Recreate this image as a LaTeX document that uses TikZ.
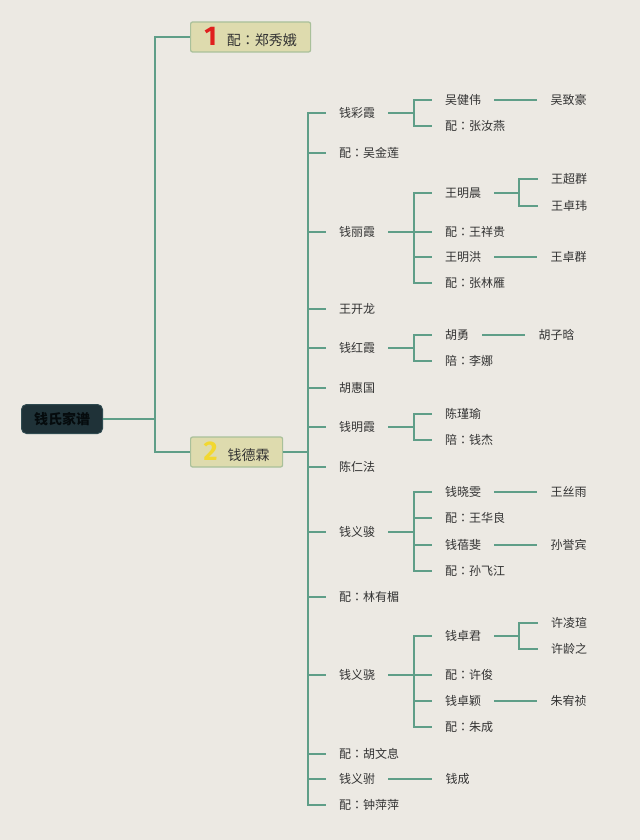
\documentclass[tikz,border=0pt]{standalone}
\usepackage{fontspec}
\setmainfont{Noto Sans CJK SC}
\newfontfamily\digitfont{Fira Sans}
\newfontfamily\tcfont{Noto Sans CJK TC}
\usetikzlibrary{positioning}

\definecolor{paper}{HTML}{ECE9E3}
\definecolor{branch}{HTML}{5F9E88}
\definecolor{rootfill}{HTML}{1F3238}
\definecolor{rootedge}{HTML}{2F4A50}
\definecolor{rootink}{HTML}{050B0D}
\definecolor{topicfill}{HTML}{DEDBAE}
\definecolor{topicedge}{HTML}{A9C09A}
\definecolor{ink}{HTML}{333333}
\definecolor{numred}{HTML}{E0201E}
\definecolor{numyellow}{HTML}{F2D830}

\newcommand{\bignum}[2]{{\digitfont\bfseries\fontsize{27}{27}\selectfont\color{#1}#2}\hspace{10pt}}
\newcommand{\co}{{\tcfont ：}}

\begin{document}
\begin{tikzpicture}[x=1pt, y=-1pt,
    root/.style={draw=rootedge, fill=rootfill, rounded corners=5pt, line width=1pt,
        minimum width=81pt, minimum height=29pt, text=rootink,
        font=\fontsize{14}{16}\selectfont\bfseries},
    topic/.style={draw=topicedge, fill=topicfill, rounded corners=2pt, line width=1.2pt,
        minimum height=30pt, inner ysep=0pt, inner xsep=12pt, text=ink,
        font=\fontsize{14}{16}\selectfont, anchor=west},
    item/.style={inner xsep=13pt, inner ysep=2pt, text=ink,
        font=\fontsize{12}{14}\selectfont, anchor=west},
    link/.style={draw=branch, line width=2pt}]

% Page
\fill[paper] (0,0) rectangle (640,840);
\useasboundingbox (0,0) rectangle (640,840);

% Root and first level
\node[root] (root) at (62,419) {钱氏家谱};
\node[topic, minimum width=120pt] (wife) at (190,37) {\bignum{numred}{1}配\co 郑秀娥};
\node[topic, minimum width=92pt] (deli) at (190,452) {\bignum{numyellow}{2}钱德霖};
\foreach \n in {wife,deli}
    \draw[link] (root.east) -- ++(52,0) |- (\n.west);

% Children of deli
\foreach \n/\y/\t in {caixia/113/钱彩霞, jinlian/153/配\co 吴金莲, lixia/232/钱丽霞,
        kailong/309/王开龙, hongxia/348/钱红霞, huiguo/388/胡惠国,
        mingxia/427/钱明霞, renfa/467/陈仁法, yijun/532/钱义骏,
        youmei/597/配\co 林有楣, yixiao/675/钱义骁, wenxi/754/配\co 胡文息,
        yifu/779/钱义驸, pingping/805/配\co 钟萍萍} {
    \node[item] (\n) at (326,\y) {\t};
    \draw[link] (deli.east) -- ++(25,0) |- (\n.west);
}

% Grandchildren
\foreach \p/\n/\y/\t in {caixia/jianwei/100/吴健伟, caixia/ruyan/126/配\co 张汝燕,
        lixia/mingchen/193/王明晨, lixia/xianggui/232/配\co 王祥贵,
        lixia/minghong/257/王明洪, lixia/linyan/283/配\co 张林雁,
        hongxia/huyong/335/胡勇, hongxia/lina/361/陪\co 李娜,
        mingxia/jinyu/414/陈瑾瑜, mingxia/qianjie/440/陪\co 钱杰,
        yijun/xiaowen/492/钱晓雯, yijun/hualiang/518/配\co 王华良,
        yijun/beifei/545/钱蓓斐, yijun/feijiang/571/配\co 孙飞江,
        yixiao/zhuojun/636/钱卓君, yixiao/xujun/675/配\co 许俊,
        yixiao/zhuoying/701/钱卓颖, yixiao/zhucheng/727/配\co 朱成} {
    \node[item] (\n) at (432,\y) {\t};
    \draw[link] (\p.east) -- ++(26,0) |- (\n.west);
}
\node[item, right=44pt of yifu] (qiancheng) {钱成};
\draw[link] (yifu.east) -- (qiancheng.west);

% Great-grandchildren (two or more)
\foreach \p/\n/\y/\t in {mingchen/chaoqun/179/王超群, mingchen/zhuowei/206/王卓玮,
        zhuojun/lingxuan/623/许凌瑄, zhuojun/lingzhi/649/许龄之} {
    \node[item] (\n) at (538,\y) {\t};
    \draw[link] (\p.east) -- ++(25,0) |- (\n.west);
}

% Great-grandchildren (only one)
\node[item, right=43pt of jianwei] (zhihao) {吴致豪};
\node[item, right=43pt of minghong] (zhuoqun) {王卓群};
\node[item, right=43pt of huyong] (zihan) {胡子晗};
\node[item, right=43pt of xiaowen] (siyu) {王丝雨};
\node[item, right=43pt of beifei] (yubin) {孙誉宾};
\node[item, right=43pt of zhuoying] (youzhen) {朱宥祯};
\foreach \p/\n in {jianwei/zhihao, minghong/zhuoqun, huyong/zihan,
        xiaowen/siyu, beifei/yubin, zhuoying/youzhen}
    \draw[link] (\p.east) -- (\n.west);
\end{tikzpicture}
\end{document}
